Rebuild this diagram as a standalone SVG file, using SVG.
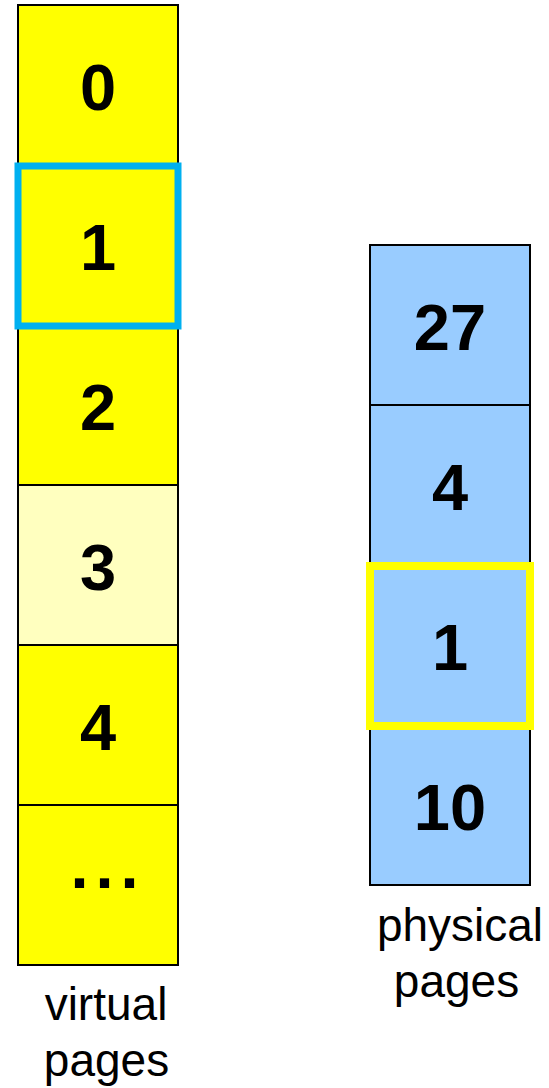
<svg xmlns="http://www.w3.org/2000/svg" width="549" height="1088" viewBox="0 0 549 1088">
<style>
.box{stroke:#000;stroke-width:2}
.v{fill:#FFFF00}
.vl{fill:#FFFFBF}
.p{fill:#99CCFF}
.num{font-family:"Liberation Sans",Arial,sans-serif;font-weight:bold;font-size:65px;fill:#000;text-anchor:middle}
.lbl{font-family:"Liberation Sans",Arial,sans-serif;font-size:46px;fill:#000;text-anchor:middle}
.hl{fill:none}
</style>
<rect width="549" height="1088" fill="#fff"/>
<g id="virtual-pages">
<g id="v0"><rect class="box v" x="18" y="5" width="160" height="160"/><text class="num" x="98" y="110">0</text></g>
<g id="v1"><rect class="box v" x="18" y="165" width="160" height="160"/><text class="num" x="98" y="270">1</text></g>
<g id="v2"><rect class="box v" x="18" y="325" width="160" height="160"/><text class="num" x="98" y="430">2</text></g>
<g id="v3"><rect class="box vl" x="18" y="485" width="160" height="160"/><text class="num" x="98" y="590">3</text></g>
<g id="v4"><rect class="box v" x="18" y="645" width="160" height="160"/><text class="num" x="98" y="750">4</text></g>
<g id="v5"><rect class="box v" x="18" y="805" width="160" height="160"/><text class="num" x="70.5" y="888" style="text-anchor:start;letter-spacing:7px">...</text></g>
<rect id="v1-highlight" class="hl" x="18" y="166" width="160" height="160" stroke="#00B0F0" stroke-width="7"/>
<text id="virtual-label" class="lbl"><tspan x="106" y="1020">virtual</tspan><tspan x="106.5" y="1076">pages</tspan></text>
</g>
<g id="physical-pages">
<g id="p27"><rect class="box p" x="370" y="245" width="160" height="160"/><text class="num" x="450" y="350">27</text></g>
<g id="p4"><rect class="box p" x="370" y="405" width="160" height="160"/><text class="num" x="450" y="510">4</text></g>
<g id="p1"><rect class="box p" x="370" y="565" width="160" height="160"/><text class="num" x="450" y="670">1</text></g>
<g id="p10"><rect class="box p" x="370" y="725" width="160" height="160"/><text class="num" x="450" y="830">10</text></g>
<rect id="p1-highlight" class="hl" x="370" y="566" width="160" height="160" stroke="#FFFF00" stroke-width="8"/>
<text id="physical-label" class="lbl"><tspan x="460" y="941">physical</tspan><tspan x="456.5" y="997">pages</tspan></text>
</g>
<g id="connectors"/>
</svg>
